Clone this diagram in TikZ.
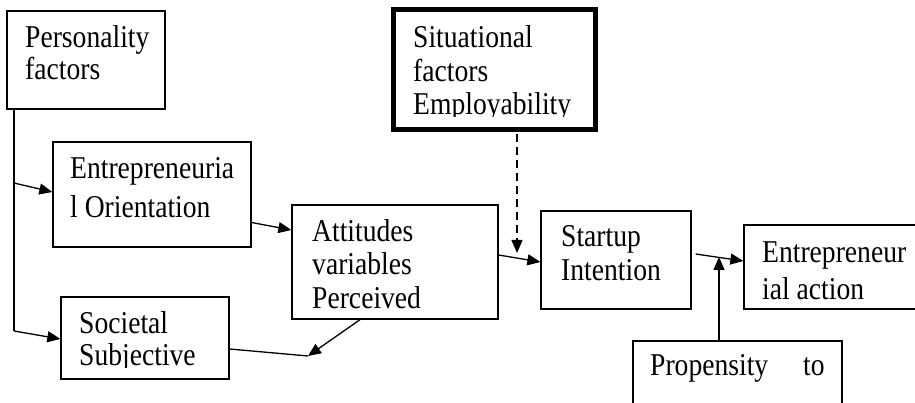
\documentclass[tikz,border=0pt]{standalone}
\usepackage{fontspec}
\setmainfont{Liberation Serif}
\usetikzlibrary{arrows.meta}
\newcommand\tallt[1]{\scalebox{1}[1.15]{#1}}
\begin{document}
\begin{tikzpicture}[x=1pt,y=-1pt,
  box/.style={draw,line width=1.3pt,inner sep=0pt,rectangle},
  txt/.style={anchor=base west,inner sep=0pt,font=\fontsize{27.6}{33}\selectfont},
  ln/.style={line width=1.3pt},
  arr/.style={line width=1.3pt,-{Triangle[length=13pt,width=11pt]}}]
\fill[white] (0,0) rectangle (915,403);
\useasboundingbox (0,0) rectangle (915,403);
% boxes
\node[box,minimum width=158pt,minimum height=98pt] (pers) at (86,60) {};
\node[box,minimum width=198pt,minimum height=105pt] (eo) at (152,194.5) {};
\node[box,minimum width=206pt,minimum height=114pt] (att) at (395,262) {};
\node[box,minimum width=168pt,minimum height=82pt] (soc) at (145,338) {};
\node[box,line width=5pt,minimum width=202pt,minimum height=120pt] (sit) at (494.5,69.5) {};
\node[box,minimum width=150pt,minimum height=98pt] (st) at (616,260) {};
\node[box,minimum width=216pt,minimum height=84pt] (ea) at (852,267) {};
\node[box,minimum width=209pt,minimum height=99pt] (prop) at (737.5,390.5) {};
% texts
\node[txt] (pers1) at (25,48) {\tallt{Personality}};
\node[txt] (pers2) at (25,80) {\tallt{factors}};
\node[txt] (eo1) at (70,179) {\tallt{Entrepreneuria}};
\node[txt] (eo2) at (70,218) {\tallt{l Orientation}};
\node[txt] (att1) at (312,242) {\tallt{Attitudes}};
\node[txt] (att2) at (312,275) {\tallt{variables}};
\node[txt] (att3) at (312,308) {\tallt{Perceived}};
\node[txt] (soc1) at (79,333) {\tallt{Societal}};
\begin{scope}
\clip (0,0) rectangle (915,367);
\node[txt] (soc2) at (79,365) {\tallt{Subjective}};
\end{scope}
\node[txt] (sit1) at (413,48) {\tallt{Situational}};
\node[txt] (sit2) at (413,82) {\tallt{factors}};
\begin{scope}
\clip (0,0) rectangle (915,117);
\node[txt] (sit3) at (413,115) {\tallt{Employability}};
\end{scope}
\node[txt] (st1) at (561,247) {\tallt{Startup}};
\node[txt] (st2) at (561,280) {\tallt{Intention}};
\node[txt] (ea1) at (762,262) {\tallt{Entrepreneur}};
\node[txt] (ea2) at (762,299) {\tallt{ial action}};
\node[txt] (prop1) at (650,375) {\tallt{Propensity}};
\node[txt] (prop2) at (803,375) {\tallt{to}};
% helper coordinates
\coordinate (v1) at (14,183);
\coordinate (v2) at (14,331);
\coordinate (k) at (308,356);
\coordinate (d) at (517,253);
\coordinate (u) at (719,257);
% connectors
\draw[ln] (pers.south -| v1) -- (v2);
\draw[arr] (v1) -- ([yshift=2.5pt]eo.west);
\draw[arr] (v2) -- ([yshift=-1pt]soc.west);
\draw[arr] ([yshift=-28pt]eo.east) -- ([yshift=32pt]att.west);
\draw[ln] ([yshift=-11pt]soc.east) -- (k);
\draw[arr] ([xshift=-35pt]att.south) -- (k);
\draw[arr] ([yshift=7pt]att.east) -- ([yshift=-2pt]st.west);
\draw[arr,dash pattern=on 8pt off 5pt] ([xshift=22.5pt,yshift=-2.5pt]sit.south) -- (d);
\draw[arr] ([shift={(4pt,6pt)}]st.east) -- ([yshift=6pt]ea.west);
\draw[arr] ([xshift=-18.5pt]prop.north) -- (u);
\end{tikzpicture}
\end{document}
